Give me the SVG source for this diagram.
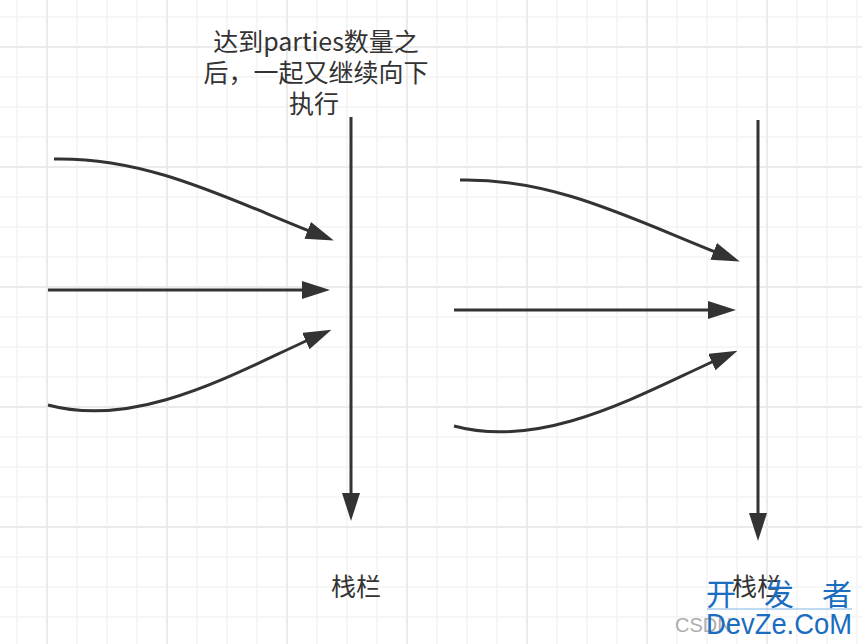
<svg xmlns="http://www.w3.org/2000/svg" width="862" height="644" viewBox="0 0 862 644">
<style>
.minor{stroke:#f3f3f3;stroke-width:1.5;fill:none}
.major{stroke:#ebebeb;stroke-width:2;fill:none}
.edge{stroke:#333333;stroke-width:3;fill:none;marker-end:url(#head)}
.lbl{font-family:"Noto Sans CJK SC","Noto Sans",sans-serif;font-size:25px;fill:#333333;text-anchor:middle}
.wm{font-family:"Noto Sans CJK SC","Noto Sans",sans-serif;fill:#1a6dbf}
</style>
<defs>
<marker id="head" viewBox="0 0 28 18" markerUnits="userSpaceOnUse" markerWidth="28" markerHeight="18" refX="10" refY="9" orient="auto">
<path d="M0,0 L28,9 L0,18 z" fill="#333333"/>
</marker>
</defs>
<rect width="862" height="644" fill="#ffffff"/>
<g id="grid">
<path class="minor" d="M17,0V644M77,0V644M107,0V644M137,0V644M197,0V644M227,0V644M257,0V644M317,0V644M347,0V644M377,0V644M437,0V644M467,0V644M497,0V644M557,0V644M587,0V644M617,0V644M677,0V644M707,0V644M737,0V644M797,0V644M827,0V644M857,0V644"/>
<path class="minor" d="M0,17H862M0,77H862M0,107H862M0,137H862M0,197H862M0,227H862M0,257H862M0,317H862M0,347H862M0,377H862M0,437H862M0,467H862M0,497H862M0,557H862M0,587H862M0,617H862"/>
<path class="major" d="M47,0V644M167,0V644M287,0V644M407,0V644M527,0V644M647,0V644M767,0V644M0,47H862M0,167H862M0,287H862M0,407H862M0,527H862"/>
</g>
<g id="connectors">
<path class="edge" d="M54,159 C150,157 230,200 317,234"/>
<path class="edge" d="M48,290 L312,290"/>
<path class="edge" d="M48,405 C140,430 240,370 315,337"/>
<path class="edge" d="M351,117 L351,503"/>
<g transform="translate(406,21)">
<path class="edge" d="M54,159 C150,157 230,200 317,234"/>
<path class="edge" d="M48,289 L312,289"/>
<path class="edge" d="M48,405 C140,430 240,370 315,337"/>
</g>
<path class="edge" d="M758,120 L758,523"/>
</g>
<g id="note">
<text class="lbl" x="316" y="51">达到parties数量之</text>
<text class="lbl" x="316" y="82">后，一起又继续向下</text>
<text class="lbl" x="314" y="113">执行</text>
</g>
<g id="barrier1">
<text class="lbl" x="356" y="596">栈栏</text>
</g>
<g id="barrier2">
<text class="lbl" x="757" y="596">栈栏</text>
</g>
<g id="watermark">
<text x="675" y="632" font-family="'Liberation Sans',sans-serif" font-size="20" fill="#9a9a9a" opacity="0.8">CSDN</text>
<text class="wm" x="706" y="605" font-size="30" textLength="146" lengthAdjust="spacing">开发者</text>
<line x1="707" y1="609" x2="852" y2="609" stroke="#7fb6e6" stroke-width="1"/>
<text x="706" y="634" font-family="'Liberation Sans',sans-serif" font-size="30" fill="#1a6dbf" textLength="146" lengthAdjust="spacingAndGlyphs">DevZe.CoM</text>
</g>
</svg>
